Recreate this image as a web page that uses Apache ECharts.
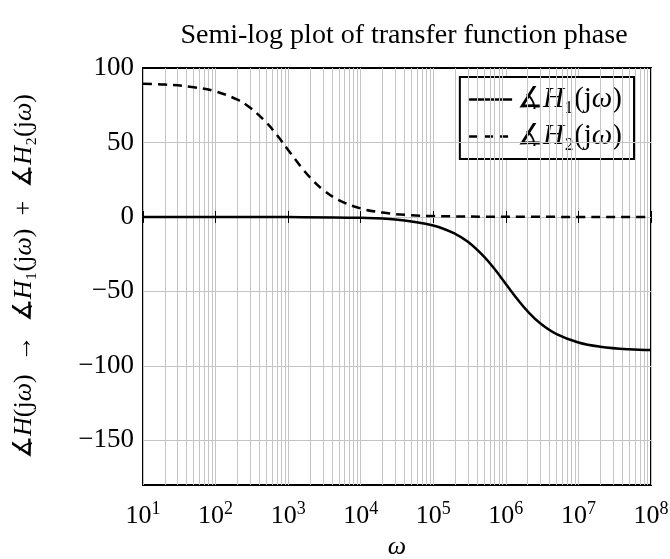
<!DOCTYPE html>
<html>
<head>
<meta charset="utf-8">
<script src="https://cdn.jsdelivr.net/npm/echarts@6/dist/echarts.min.js"></script>
<style>
html,body{margin:0;padding:0;background:#fff;}
#chart{width:670px;height:559px;}
</style>
</head>
<body>
<div id="chart"></div>
<script>
// Data (estimates)
const omegaH1 = [10, 100, 1000, 10000, 30000, 100000, 200000, 300000, 500000, 700000, 1000000, 1500000, 2000000, 3000000, 5000000, 10000000, 20000000, 50000000, 100000000];
const phaseH1 = [0, 0, -0.1, -0.6, -1.7, -5.7, -11.3, -16.7, -26.6, -35, -45, -56.3, -63.4, -71.6, -78.7, -84.3, -87.1, -88.9, -89.4];
const omegaH2 = [10, 20, 50, 100, 200, 300, 500, 700, 1000, 1500, 2000, 3000, 5000, 10000, 20000, 50000, 100000, 1000000, 100000000];
const phaseH2 = [89.4, 88.9, 87.1, 84.3, 78.7, 73.3, 63.4, 55, 45, 33.7, 26.6, 18.4, 11.3, 5.7, 2.9, 1.1, 0.6, 0.1, 0];
const seriesNames = ['∡{i|H}₁(j{i|ω})', '∡{i|H}₂(j{i|ω})'];
const yTicks = [-150, -100, -50, 0, 50, 100];

const minorGrid = [];
for (let d = 1; d < 8; d++) {
  for (let k = 2; k <= 9; k++) minorGrid.push({ xAxis: k * Math.pow(10, d) });
}
const hGrid = yTicks.filter(function (v) { return v < 100; }).map(function (v) { return { yAxis: v }; });

const serif = '"Liberation Serif", "DejaVu Serif", serif';
const richName = { i: { fontStyle: 'italic', fontFamily: serif, fontSize: 26, color: '#000' } };
const richLegend = { i: { fontStyle: 'italic', fontFamily: serif, fontSize: 29, color: '#000' } };
const gridGray = '#c4c4c4';

const chart = echarts.init(document.getElementById('chart'));
const option = {
  animation: false,
  backgroundColor: '#fff',
  textStyle: { fontFamily: serif, color: '#000' },
  title: {
    text: 'Semi-log plot of transfer function phase',
    left: 399, top: 17, textAlign: 'center',
    textStyle: { fontFamily: serif, fontSize: 28, fontWeight: 'normal', color: '#000' }
  },
  grid: {
    left: 143, right: 19, top: 68, bottom: 74,
    containLabel: false, outerBoundsMode: 'none',
    show: true, borderColor: '#000', borderWidth: 2, backgroundColor: 'transparent'
  },
  legend: {
    right: 36, top: 77, orient: 'vertical',
    backgroundColor: '#fff', borderColor: '#000', borderWidth: 2,
    padding: [8, 12, 8, 8], itemGap: 8, itemWidth: 43, itemHeight: 14,
    data: ['H1', 'H2'],
    itemStyle: { opacity: 0, borderWidth: 0 },
    lineStyle: { width: 2.5 },
    formatter: function (n) { return n === 'H1' ? seriesNames[0] : seriesNames[1]; },
    textStyle: { fontFamily: serif, fontSize: 29, color: '#000', rich: richLegend }
  },
  xAxis: [{
    type: 'log', logBase: 10, min: 10, max: 100000000, interval: 1,
    axisLine: { show: false },
    axisTick: { show: true, inside: true, length: 6, lineStyle: { color: '#000', width: 1 } },
    splitLine: { show: true, lineStyle: { color: gridGray, width: 1 } },
    axisLabel: {
      margin: 15, color: '#000',
      formatter: function (v) { return '{b|10}{s|' + Math.round(Math.log10(v)) + '}'; },
      rich: {
        b: { fontFamily: serif, fontSize: 26, color: '#000' },
        s: { fontFamily: serif, fontSize: 18, color: '#000', padding: [0, 0, 14, 0] }
      }
    },
    name: 'ω', nameLocation: 'middle', nameGap: 48,
    nameTextStyle: { fontFamily: serif, fontSize: 26, fontStyle: 'italic', color: '#000' }
  }, {
    type: 'log', logBase: 10, min: 10, max: 100000000, interval: 1, position: 'top',
    axisLine: { show: false },
    axisTick: { show: true, inside: true, length: 6, lineStyle: { color: '#000', width: 1 } },
    splitLine: { show: false }, axisLabel: { show: false }
  }],
  yAxis: [{
    type: 'value', min: -180, max: 100,
    axisLine: { show: false },
    axisTick: { show: true, inside: true, length: 6, lineStyle: { color: '#000', width: 1 }, customValues: yTicks },
    splitLine: { show: false },
    axisLabel: {
      margin: 9, color: '#000', fontFamily: serif, fontSize: 27,
      customValues: yTicks,
      formatter: function (v) { return v < 0 ? '−' + (-v) : String(v); }
    },
    name: '∡{i|H}(j{i|ω})  →  ∡{i|H}₁(j{i|ω})  +  ∡{i|H}₂(j{i|ω})',
    nameLocation: 'middle', nameGap: 106, nameRotate: 90,
    nameTextStyle: { fontFamily: serif, fontSize: 26, color: '#000', rich: richName }
  }, {
    type: 'value', min: -180, max: 100, position: 'right',
    axisLine: { show: false },
    axisTick: { show: true, inside: true, length: 6, lineStyle: { color: '#000', width: 1 }, customValues: yTicks },
    splitLine: { show: false }, axisLabel: { show: false }
  }],
  series: [{
    name: 'H1', type: 'line', xAxisIndex: 0, yAxisIndex: 0,
    data: omegaH1.map(function (w, i) { return [w, phaseH1[i]]; }),
    smooth: 0.4, showSymbol: false, symbol: 'none', z: 5,
    lineStyle: { color: '#000', width: 2.5, type: 'solid' },
    itemStyle: { color: '#000' },
    markLine: {
      silent: true, symbol: 'none', animation: false,
      label: { show: false },
      lineStyle: { color: gridGray, width: 1, type: 'solid' },
      data: minorGrid.concat(hGrid)
    }
  }, {
    name: 'H2', type: 'line', xAxisIndex: 0, yAxisIndex: 0,
    data: omegaH2.map(function (w, i) { return [w, phaseH2[i]]; }),
    smooth: 0.4, showSymbol: false, symbol: 'none', z: 5,
    lineStyle: { color: '#000', width: 2.5, type: [9, 6] },
    itemStyle: { color: '#000' }
  }]
};
chart.setOption(option);
</script>
</body>
</html>
